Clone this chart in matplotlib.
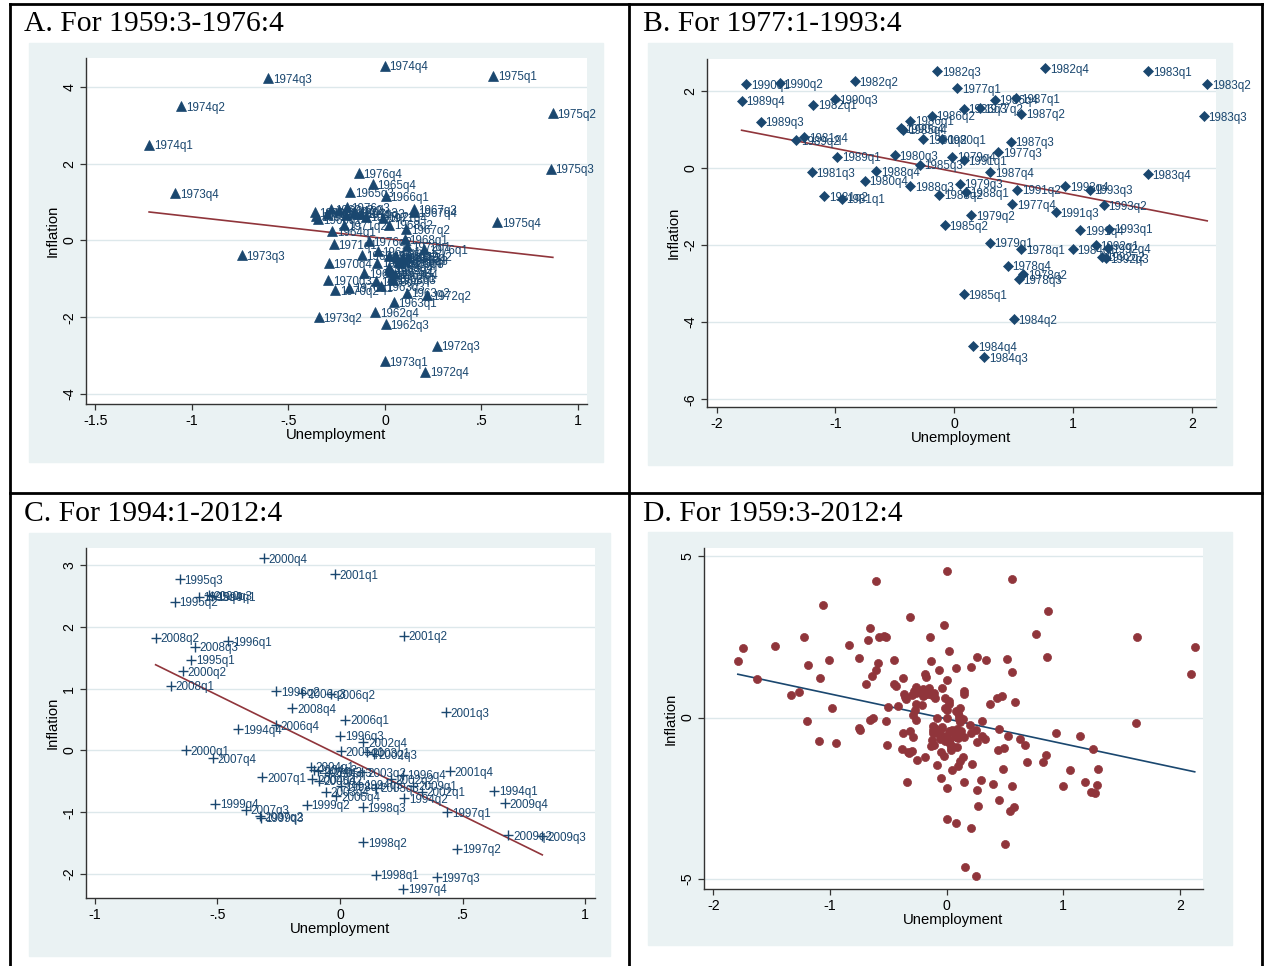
import matplotlib.pyplot as plt
from matplotlib.lines import Line2D
from matplotlib.patches import Rectangle

W, H = 1267, 966
NAVY = "#1a476f"
MAROON = "#90353b"
BG = "#eaf2f3"
GRID = "#dde8eb"


def quarter_labels(year, q, n):
    out = []
    for _ in range(n):
        out.append(f"{year}q{q}")
        q += 1
        if q > 4:
            q = 1
            year += 1
    return out


# A. 1959:3-1976:4
quarters_a = quarter_labels(1959, 3, 70)
unemp_a = [-0.363, -0.357, -0.345, -0.281, -0.12, -0.106, -0.037, 0.019, 0.065, 0.09,
           0.037, 0.022, 0.004, -0.05, 0.046, 0.112, -0.019, -0.046, -0.274, -0.24,
           -0.16, -0.20, -0.30, -0.10, -0.18, -0.063, 0.004, 0.05, 0.10, 0.07,
           0.03, 0.111, 0.148, 0.148, 0.102, 0.022, 0.04, 0.022, -0.041, 0.12,
           0.08, 0.05, -0.185, -0.257, -0.293, -0.291, -0.265, -0.213, -0.124, -0.01,
           0.115, 0.219, 0.269, 0.209, 0.0, -0.343, -0.741, -1.087, -1.222, -1.056,
           -0.606, 0.0, 0.561, 0.870, 0.859, 0.583, 0.204, -0.083, -0.199, -0.137]
infl_a = [0.74, 0.63, 0.56, 0.81, -0.39, -0.86, -0.28, -0.41, -0.45, -0.47,
          -0.95, -0.76, -2.18, -1.87, -1.61, -1.36, -1.19, -1.06, 0.24, 0.78,
          0.72, 0.66, 0.70, 0.62, 1.25, 1.47, 1.16, -0.40, -0.52, -0.56,
          -0.82, 0.29, 0.81, 0.74, 0.04, 0.41, -1.02, -0.70, -0.58, -0.42,
          -0.60, -0.88, -1.23, -1.30, -1.04, -0.60, -0.09, 0.39, 0.70, 0.59,
          -0.15, -1.43, -2.74, -3.42, -3.15, -2.0, -0.38, 1.23, 2.49, 3.49,
          4.22, 4.55, 4.29, 3.31, 1.87, 0.48, -0.22, -0.02, 0.87, 1.75]
fit_a = (0.05, -0.565)

# B. 1977:1-1993:4
quarters_b = quarter_labels(1977, 1, 68)
unemp_b = [0.023, 0.213, 0.371, 0.488, 0.561, 0.577, 0.54, 0.45, 0.298, 0.14,
           0.045, -0.018, -0.104, -0.262, -0.502, -0.752, -0.948, -1.093, -1.20, -1.264,
           -1.188, -0.837, -0.145, 0.766, 1.63, 2.126, 2.095, 1.627, 0.997, 0.499,
           0.252, 0.157, 0.078, -0.081, -0.29, -0.43, -0.372, -0.189, 0.077, 0.34,
           0.52, 0.56, 0.475, 0.30, 0.096, -0.126, -0.372, -0.657, -0.983, -1.33,
           -1.628, -1.789, -1.748, -1.47, -1.005, -0.45, 0.08, 0.529, 0.851, 1.06,
           1.187, 1.24, 1.272, 1.288, 1.30, 1.256, 1.14, 0.934]
infl_b = [2.07, 1.55, 0.41, -0.95, -2.11, -2.76, -2.89, -2.54, -1.94, -1.22,
          -0.41, 0.29, 0.75, 0.75, 0.32, -0.33, -0.80, -0.73, -0.12, 0.79,
          1.64, 2.24, 2.50, 2.59, 2.50, 2.17, 1.34, -0.17, -2.11, -3.93,
          -4.90, -4.62, -3.28, -1.48, 0.08, 0.99, 1.22, 1.35, 1.53, 1.77,
          1.81, 1.40, 0.68, -0.11, -0.63, -0.70, -0.47, -0.09, 0.29, 0.71,
          1.20, 1.74, 2.16, 2.20, 1.78, 1.03, 0.19, -0.57, -1.15, -1.62,
          -2.01, -2.30, -2.35, -2.09, -1.58, -0.97, -0.57, -0.47]
fit_b = (-0.10, -0.60)

# C. 1994:1-2012:4 (points shown through 2009q4)
quarters_c = quarter_labels(1994, 1, 64)
unemp_c = [0.63, 0.262, 0.078, -0.416, -0.606, -0.674, -0.653, -0.577, -0.455, -0.261,
           0.0, 0.255, 0.438, 0.479, 0.394, 0.258, 0.146, 0.095, 0.092, 0.003,
           -0.521, -0.136, -0.324, -0.508, -0.628, -0.642, -0.536, -0.312, -0.02, 0.26,
           0.431, 0.448, 0.333, 0.207, 0.139, 0.095, 0.11, 0.091, 0.146, -0.058,
           -0.12, -0.106, -0.088, -0.113, 0.003, -0.086, -0.045, -0.015, 0.022, -0.036,
           -0.153, -0.263, -0.317, -0.328, -0.384, -0.518, -0.689, -0.752, -0.591, -0.194,
           0.299, 0.686, 0.825, 0.672]
infl_c = [-0.65, -0.77, -0.55, 0.35, 1.47, 2.41, 2.78, 2.49, 1.77, 0.96,
          0.24, -0.39, -1.0, -1.59, -2.05, -2.24, -2.01, -1.49, -0.92, -0.58,
          2.50, -0.88, -1.09, -0.86, 0.0, 1.28, 2.52, 3.12, 2.86, 1.86,
          0.62, -0.34, -0.67, -0.47, -0.06, 0.13, -0.03, -0.35, -0.60, -0.67,
          -0.26, -0.31, -0.34, -0.47, -0.01, -0.49, -0.36, -0.74, 0.50, 0.91,
          0.93, 0.41, -0.43, -1.06, -0.96, -0.12, 1.05, 1.83, 1.68, 0.69,
          -0.57, -1.37, -1.39, -0.85]
fit_c = (-0.08, -1.953)

# D. 1959:3-2012:4, all quarters
unemp_d = unemp_a + unemp_b + unemp_c
infl_d = infl_a + infl_b + infl_c
fit_d = (-0.04, -0.772)


def fig_box(x0, y0, x1, y1):
    return [x0 / W, 1 - y1 / H, (x1 - x0) / W, (y1 - y0) / H]


def draw_panel(fig, bg, plot, title, title_xy, x, y, labels, marker, ms,
               mcolor, fit, fcolor, xlim, ylim, xticks, xticklabels, yticks):
    x0, y0, x1, y1 = bg
    fig.patches.append(Rectangle((x0 / W, 1 - y1 / H), (x1 - x0) / W, (y1 - y0) / H,
                                 transform=fig.transFigure, color=BG, zorder=-10))
    fig.text(title_xy[0] / W, 1 - title_xy[1] / H, title, fontsize=21.3,
             family="Liberation Serif", va="center", ha="left")

    ax = fig.add_axes(fig_box(*plot))
    ax.set_zorder(1)
    ax.set_facecolor("white")
    ax.plot(x, y, linestyle="none", marker=marker, ms=ms, color=mcolor,
            mec=mcolor, mew=1.0 if marker == "+" else 0.5, zorder=3)
    if labels is not None:
        for lx, ly, lab in zip(x, y, labels):
            ax.annotate(lab, (lx, ly), xytext=(3.4, -1.2), textcoords="offset points",
                        fontsize=8.4, color=mcolor, va="center", ha="left",
                        family="Liberation Sans", annotation_clip=False, zorder=4)
    lo, hi = min(x), max(x)
    ax.plot([lo, hi], [fit[0] + fit[1] * lo, fit[0] + fit[1] * hi],
            color=fcolor, lw=1.2, zorder=2)

    ax.set_xlim(*xlim)
    ax.set_ylim(*ylim)
    ax.set_xticks(xticks)
    ax.set_xticklabels(xticklabels)
    ax.set_yticks(yticks)
    ax.set_yticklabels([str(t) for t in yticks], rotation=90, va="center")
    ax.yaxis.grid(True, color=GRID, lw=1.0)
    ax.set_axisbelow(True)
    for side in ("top", "right"):
        ax.spines[side].set_visible(False)
    for side in ("left", "bottom"):
        ax.spines[side].set_color("#333333")
        ax.spines[side].set_linewidth(1.0)
    ax.tick_params(length=4.5, width=0.9, color="#333333", labelsize=10.2, pad=2.5)
    for t in ax.get_xticklabels() + ax.get_yticklabels():
        t.set_family("Liberation Sans")
    ax.set_xlabel("Unemployment", fontsize=10.7, family="Liberation Sans", labelpad=0)
    ax.set_ylabel("Inflation", fontsize=10.7, family="Liberation Sans", labelpad=2)
    return ax


fig = plt.figure(figsize=(W / 100, H / 100), dpi=100)
fig.patch.set_facecolor("white")

draw_panel(fig, (29, 43, 603, 462), (86, 58, 587, 404), "A. For 1959:3-1976:4", (24, 24),
           unemp_a, infl_a, quarters_a, "^", 6.6, NAVY, fit_a, MAROON,
           (-1.549, 1.047), (-4.26, 4.75), [-1.5, -1, -0.5, 0, 0.5, 1],
           ["-1.5", "-1", "-.5", "0", ".5", "1"], [-4, -2, 0, 2, 4])

draw_panel(fig, (648, 43, 1232, 465), (707, 59, 1216, 407), "B. For 1977:1-1993:4", (643, 24),
           unemp_b, infl_b, quarters_b, "D", 5.6, NAVY, fit_b, MAROON,
           (-2.08, 2.2), (-6.2, 2.82), [-2, -1, 0, 1, 2],
           ["-2", "-1", "0", "1", "2"], [-6, -4, -2, 0, 2])

draw_panel(fig, (29, 533, 610, 956), (86, 548, 595, 898), "C. For 1994:1-2012:4", (24, 514),
           unemp_c, infl_c, quarters_c, "+", 6.5, NAVY, fit_c, MAROON,
           (-1.036, 1.04), (-2.39, 3.28), [-1, -0.5, 0, 0.5, 1],
           ["-1", "-.5", "0", ".5", "1"], [-2, -1, 0, 1, 2, 3])

draw_panel(fig, (648, 532, 1232, 945), (704, 548, 1203, 889), "D. For 1959:3-2012:4", (643, 514),
           unemp_d, infl_d, None, "o", 5.8, MAROON, fit_d, NAVY,
           (-2.079, 2.197), (-5.31, 5.25), [-2, -1, 0, 1, 2],
           ["-2", "-1", "0", "1", "2"], [-5, 0, 5])

# cell borders
for xs, ys in [((10, 10), (4, 966)), ((10, 1262), (4, 4)), ((1262, 1262), (4, 966)),
               ((629, 629), (4, 966)), ((10, 1262), (493, 493))]:
    fig.add_artist(Line2D([xs[0] / W, xs[1] / W], [1 - ys[0] / H, 1 - ys[1] / H],
                          color="black", lw=2.0, transform=fig.transFigure))

fig.savefig("out.png", dpi=100)
